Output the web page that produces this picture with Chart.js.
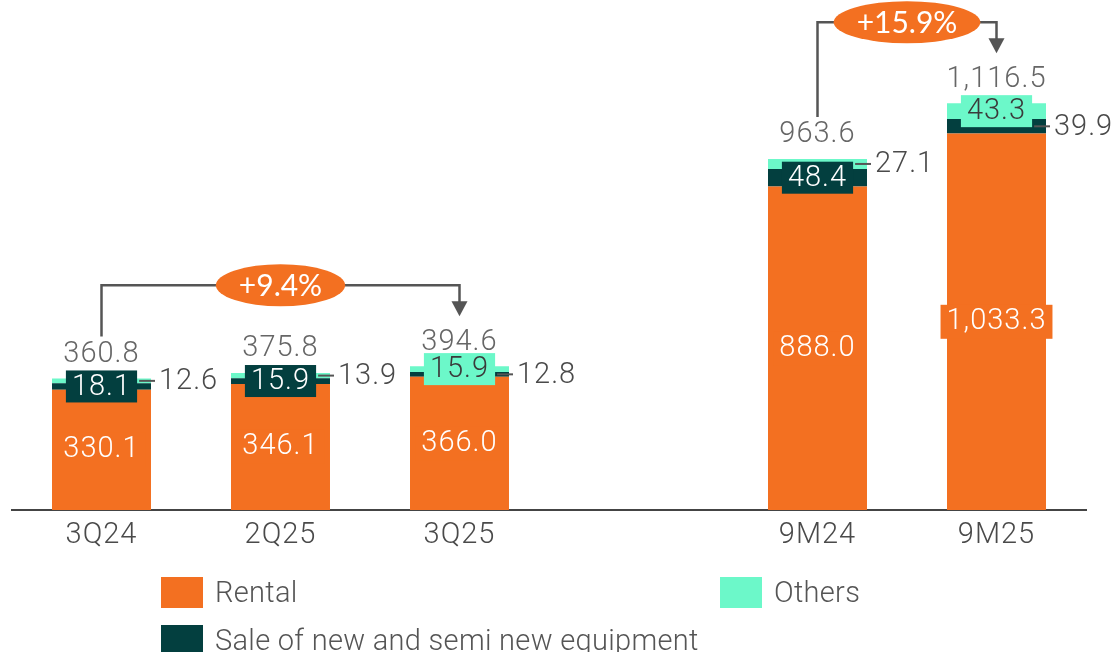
<!DOCTYPE html>
<html><head><meta charset="utf-8">
<script src="https://cdn.jsdelivr.net/npm/chart.js@4"></script>
<style>
html,body{margin:0;padding:0;background:#fff;}
#wrap{position:relative;width:1115px;height:652px;overflow:hidden;}
canvas{position:absolute;left:0;top:0;}
.lg{position:absolute;font-family:Roboto,sans-serif;font-weight:300;font-size:29px;letter-spacing:0.3px;color:#555;height:31px;line-height:31px;display:flex;align-items:center;white-space:nowrap;}
.lg .sw{display:inline-block;width:42px;height:31px;margin-right:12px;flex:none;}
</style></head>
<body><div id="wrap"><canvas id="c" width="1115" height="652"></canvas><div id="legend"></div></div>
<script>
const categories = ['3Q24','2Q25','3Q25','','9M24','9M25'];
const rental = [330.1, 346.1, 366.0, null, 888.0, 1033.3];
const sale = [18.1, 15.9, 12.8, null, 48.4, 39.9];
const others = [12.6, 13.9, 15.9, null, 27.1, 43.3];
const totals = [360.8, 375.8, 394.6, null, 963.6, 1116.5];
const growthFrom = ['3Q24', '9M24'];
const growthTo = ['3Q25', '9M25'];
const growthLabels = ['+9.4%', '+15.9%'];
const seriesNames = ['Rental', 'Sale of new and semi new equipment', 'Others'];
const colors = ['#F37021', '#033F3F', '#6CF8C9'];

const fmt = v => v.toLocaleString('en-US', {minimumFractionDigits: 1, maximumFractionDigits: 1});
const LABEL_FONT = '300 29px Roboto, sans-serif';

const spacingPlugin = {
  id: 'spacing',
  beforeDraw(chart) { try { chart.ctx.letterSpacing = '1px'; } catch (e) {} }
};

const labelPlugin = {
  id: 'labels',
  afterDatasetsDraw(chart) {
    const ctx = chart.ctx;
    const ys = chart.scales.y;
    const metas = [0, 1, 2].map(d => chart.getDatasetMeta(d));
    ctx.save();
    try { ctx.letterSpacing = '1px'; } catch (e) {}
    ctx.font = LABEL_FONT;
    ctx.textBaseline = 'middle';
    for (let i = 0; i < categories.length; i++) {
      if (totals[i] == null) continue;
      const bar = metas[0].data[i];
      const cx = bar.x, right = bar.x + bar.width / 2;
      // Rental label
      const ry = ys.getPixelForValue(rental[i] / 2);
      const rt = fmt(rental[i]);
      const rw = ctx.measureText(rt).width;
      ctx.fillStyle = colors[0];
      ctx.fillRect(cx - rw / 2 - 6, ry - 17, rw + 12, 34);
      ctx.fillStyle = '#ffffff';
      ctx.textAlign = 'center';
      ctx.fillText(rt, cx, ry);
      // Sale / Others labels
      const saleMid = ys.getPixelForValue(rental[i] + sale[i] / 2);
      const othMid = ys.getPixelForValue(rental[i] + sale[i] + others[i] / 2);
      const boxIsSale = sale[i] >= others[i];
      const boxVal = boxIsSale ? sale[i] : others[i];
      const boxY = boxIsSale ? saleMid : othMid;
      const boxCol = boxIsSale ? colors[1] : colors[2];
      const callVal = boxIsSale ? others[i] : sale[i];
      const callY = boxIsSale ? othMid : saleMid;
      const bt = fmt(boxVal);
      const bw = ctx.measureText(bt).width + 12;
      ctx.fillStyle = boxCol;
      ctx.fillRect(cx - bw / 2, boxY - 16, bw, 32);
      ctx.fillStyle = boxIsSale ? '#ffffff' : '#3a3a3a';
      ctx.textAlign = 'center';
      ctx.fillText(bt, cx, boxY + 1);
      // callout
      ctx.strokeStyle = '#555';
      ctx.lineWidth = 2;
      ctx.beginPath();
      ctx.moveTo(cx + bw / 2 + 2, callY);
      ctx.lineTo(right + 4, callY);
      ctx.stroke();
      ctx.fillStyle = '#4a4a4a';
      ctx.textAlign = 'left';
      ctx.fillText(fmt(callVal), right + 8, callY + 1);
      // total
      const top = ys.getPixelForValue(totals[i]);
      ctx.fillStyle = '#666';
      ctx.textAlign = 'center';
      ctx.fillText(fmt(totals[i]), cx, top - 24);
    }
    // growth brackets
    for (let g = 0; g < growthLabels.length; g++) {
      const i0 = categories.indexOf(growthFrom[g]);
      const i1 = categories.indexOf(growthTo[g]);
      const x0 = metas[0].data[i0].x, x1 = metas[0].data[i1].x;
      const t0 = ys.getPixelForValue(totals[i0]);
      const t1 = ys.getPixelForValue(totals[i1]);
      const hy = Math.min(t0, t1) - 81;
      const tip = t1 - 50;
      ctx.strokeStyle = '#555';
      ctx.lineWidth = 2.5;
      ctx.beginPath();
      ctx.moveTo(x0, t0 - 42);
      ctx.lineTo(x0, hy);
      ctx.lineTo(x1, hy);
      ctx.lineTo(x1, tip - 14);
      ctx.stroke();
      ctx.fillStyle = '#555';
      ctx.beginPath();
      ctx.moveTo(x1 - 8, tip - 15);
      ctx.lineTo(x1 + 8, tip - 15);
      ctx.lineTo(x1, tip);
      ctx.closePath();
      ctx.fill();
      try { ctx.letterSpacing = '0px'; } catch (e) {}
      ctx.font = '400 30px Lato, sans-serif';
      const tw = ctx.measureText(growthLabels[g]).width;
      const ex = (x0 + x1) / 2;
      ctx.fillStyle = colors[0];
      ctx.beginPath();
      ctx.ellipse(ex, hy, tw / 2 + 23, 21, 0, 0, Math.PI * 2);
      ctx.fill();
      ctx.fillStyle = '#fff';
      ctx.textAlign = 'center';
      ctx.fillText(growthLabels[g], ex, hy + 1);
    }
    ctx.restore();
  }
};

const ctx = document.getElementById('c').getContext('2d');
new Chart(ctx, {
  type: 'bar',
  data: {
    labels: categories,
    datasets: [
      {label: seriesNames[0], data: rental, backgroundColor: colors[0]},
      {label: seriesNames[1], data: sale, backgroundColor: colors[1]},
      {label: seriesNames[2], data: others, backgroundColor: colors[2]}
    ]
  },
  options: {
    responsive: false,
    animation: false,
    layout: {padding: {left: 12, right: 29, top: 0, bottom: 0}},
    plugins: {legend: {display: false}, tooltip: {enabled: false}},
    datasets: {bar: {barPercentage: 0.553, categoryPercentage: 1.0}},
    scales: {
      x: {
        stacked: true,
        grid: {display: false, drawTicks: false},
        border: {display: true, color: '#444', width: 2},
        ticks: {color: '#4a4a4a', font: {family: 'Roboto', size: 29, weight: 300}, padding: 8},
        afterFit: s => { s.height = 142; }
      },
      y: {stacked: true, display: false, min: 0, max: 1400}
    }
  },
  plugins: [spacingPlugin, labelPlugin]
});

// legend (two columns: Rental / Others, then Sale)
const legendPos = [
  {idx: 0, left: 161, top: 577},
  {idx: 2, left: 720, top: 577},
  {idx: 1, left: 161, top: 625}
];
const lg = document.getElementById('legend');
legendPos.forEach(p => {
  const d = document.createElement('div');
  d.className = 'lg';
  d.style.left = p.left + 'px';
  d.style.top = p.top + 'px';
  const sw = document.createElement('span');
  sw.className = 'sw';
  sw.style.background = colors[p.idx];
  d.appendChild(sw);
  d.appendChild(document.createTextNode(seriesNames[p.idx]));
  lg.appendChild(d);
});
</script>
</body></html>
